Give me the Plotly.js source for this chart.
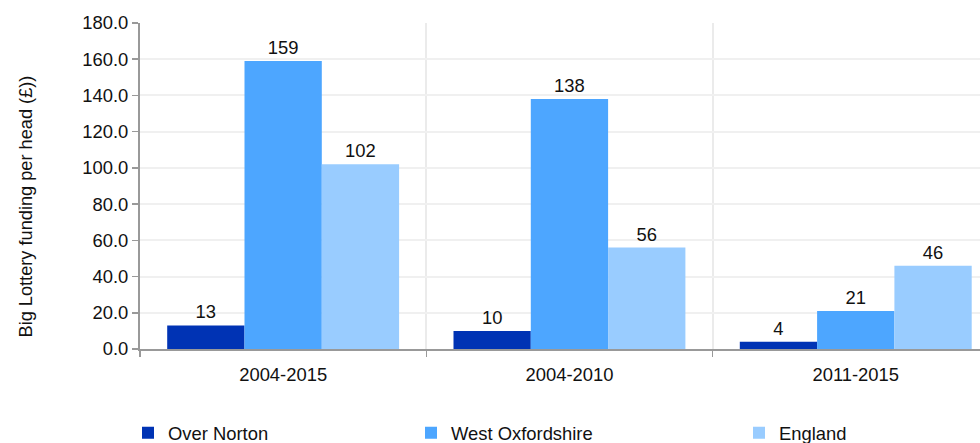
<!DOCTYPE html>
<html><head><meta charset="utf-8">
<script src="https://cdn.plot.ly/plotly-3.0.1.min.js"></script>
<style>html,body{margin:0;padding:0;background:#fff}#chart{width:980px;height:443px}</style>
</head><body><div id="chart"></div>
<script>
const categories = ['2004-2015', '2004-2010', '2011-2015'];
const seriesNames = ['Over Norton', 'West Oxfordshire', 'England'];
const overNorton = [13, 10, 4];
const westOxfordshire = [159, 138, 21];
const england = [102, 56, 46];
const yTicks = [0, 20, 40, 60, 80, 100, 120, 140, 160, 180];
const yTitle = 'Big Lottery funding per head (£))';

const colors = ['#0033b4', '#4da6ff', '#99ccff'];
const values = [overNorton, westOxfordshire, england];
const legendKeys = ['legend', 'legend2', 'legend3'];
const font = {family: 'Liberation Sans, Arial, sans-serif', size: 18.4, color: '#111'};

const traces = values.map((v, i) => ({
  type: 'bar', x: categories, y: v, name: seriesNames[i],
  marker: {color: colors[i], line: {width: 0}},
  text: v.map(n => String(Math.round(n))), textposition: 'outside',
  textfont: font, cliponaxis: false, legend: legendKeys[i], hoverinfo: 'none'
}));

const legendBase = {orientation: 'h', yanchor: 'top', xanchor: 'left', y: -0.2,
  font: font, bgcolor: 'rgba(0,0,0,0)', borderwidth: 0, itemwidth: 30};

const layout = {
  width: 980, height: 443,
  margin: {l: 140, r: 0, t: 23, b: 94, pad: 0, autoexpand: false},
  paper_bgcolor: '#fff', plot_bgcolor: '#fff',
  font: font,
  barmode: 'group', bargap: 0.19, bargroupgap: 0,
  xaxis: {type: 'category', range: [-0.5, 2.434], tickson: 'boundaries',
    ticks: 'outside', ticklen: 6, tickcolor: '#999', tickwidth: 1.5,
    showline: true, linecolor: '#999', linewidth: 2,
    showgrid: true, gridcolor: '#ebebeb', gridwidth: 2,
    tickfont: font, ticklabelstandoff: 8, zeroline: false, automargin: false},
  yaxis: {range: [0, 180], tickvals: yTicks, ticktext: yTicks.map(t => t.toFixed(1)),
    ticks: 'outside', ticklen: 6, tickcolor: '#999', tickwidth: 1.5,
    showline: true, linecolor: '#999', linewidth: 2,
    showgrid: true, gridcolor: '#f0f0f0', gridwidth: 2, zeroline: false,
    tickfont: font, automargin: false},
  annotations: [{text: yTitle, textangle: -90, xref: 'paper', yref: 'paper',
    x: (25 - 140) / 840, y: (349 - 206.5) / 326, xanchor: 'center', yanchor: 'middle',
    showarrow: false, font: {family: 'Liberation Sans, Arial, sans-serif', size: 18.2, color: '#111'}}],
  legend: Object.assign({}, legendBase, {x: (128 - 140) / 840}),
  legend2: Object.assign({}, legendBase, {x: (411 - 140) / 840}),
  legend3: Object.assign({}, legendBase, {x: (739 - 140) / 840}),
  showlegend: true
};

Plotly.newPlot('chart', traces, layout, {staticPlot: true, displayModeBar: false});
</script></body></html>
